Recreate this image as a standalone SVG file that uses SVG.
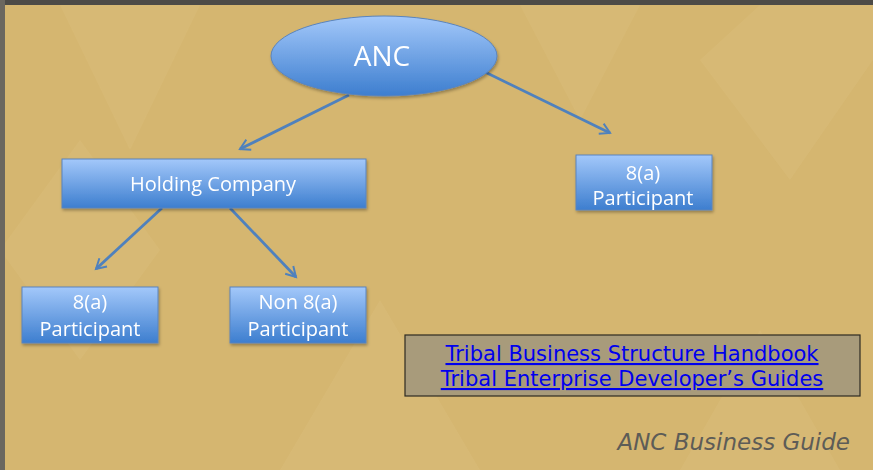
<svg xmlns="http://www.w3.org/2000/svg" width="873" height="470" viewBox="0 0 873 470">
<style>
.node{fill:url(#g);stroke:#5a84bd;stroke-width:1}
.nt{font-family:"Open Sans","Liberation Sans",sans-serif;fill:#fff;text-anchor:middle}
.conn line{stroke:#4f81bd;stroke-width:2.8;marker-end:url(#ah)}
.lnk{font-family:"DejaVu Sans",Verdana,sans-serif;font-size:21px;fill:#0000ee;text-decoration:underline;text-anchor:middle}
</style>
<defs>
<linearGradient id="g" x1="0" y1="0" x2="0" y2="1">
<stop offset="0" stop-color="#a3c8fa"/>
<stop offset="1" stop-color="#3d7ecf"/>
</linearGradient>
<marker id="ah" viewBox="0 0 10 10" refX="8" refY="5" markerWidth="5" markerHeight="5" orient="auto" markerUnits="strokeWidth">
<path d="M1,1 L8,5 L1,9" fill="none" stroke="#4f81bd" stroke-width="1.4"/>
</marker>
<filter id="sh" x="-10%" y="-10%" width="130%" height="140%">
<feDropShadow dx="1" dy="2" stdDeviation="1.5" flood-color="#000" flood-opacity="0.3"/>
</filter>
</defs>
<rect width="873" height="470" fill="#d5b670"/>
<g fill="#e2c88a" opacity="0.2">
<path d="M60,5 L200,5 L130,150 Z"/>
<path d="M520,5 L640,5 L580,120 Z"/>
<path d="M280,470 L380,300 L480,470 Z"/>
<path d="M680,470 L760,330 L840,470 Z"/>
<path d="M0,250 L80,140 L160,250 L80,360 Z"/>
<path d="M700,60 L790,180 L873,60 L873,5 L760,5 Z"/>
</g>
<rect x="0" y="0" width="873" height="5" fill="#4d4b47"/>
<rect x="0" y="0" width="5" height="470" fill="#6b675f"/>
<g class="conn">
<line x1="349" y1="95" x2="240" y2="149"/>
<line x1="485" y1="72" x2="610" y2="133"/>
<line x1="162" y1="208" x2="96" y2="269"/>
<line x1="230" y1="208" x2="296" y2="277"/>
</g>
<g id="anc" filter="url(#sh)">
<ellipse class="node" cx="384" cy="56" rx="113" ry="40"/>
<text class="nt" x="382" y="66" font-size="28">ANC</text>
</g>
<g id="holding" filter="url(#sh)">
<rect class="node" x="62" y="159" width="304" height="49"/>
<text class="nt" x="213" y="191" font-size="20">Holding Company</text>
</g>
<g id="p8a-right" filter="url(#sh)">
<rect class="node" x="576" y="155" width="136" height="55"/>
<text class="nt" x="643" y="180" font-size="20">8(a)</text>
<text class="nt" x="643" y="205" font-size="20">Participant</text>
</g>
<g id="p8a-left" filter="url(#sh)">
<rect class="node" x="22" y="287" width="136" height="56"/>
<text class="nt" x="90" y="309" font-size="20">8(a)</text>
<text class="nt" x="90" y="336" font-size="20">Participant</text>
</g>
<g id="non8a" filter="url(#sh)">
<rect class="node" x="230" y="287" width="136" height="56"/>
<text class="nt" x="298" y="309" font-size="20">Non 8(a)</text>
<text class="nt" x="298" y="336" font-size="20">Participant</text>
</g>
<g id="links">
<rect x="405" y="335" width="455" height="61" fill="#a89b7b" stroke="#2d2a22" stroke-width="1.2"/>
<text class="lnk" x="632" y="361">Tribal Business Structure Handbook</text>
<text class="lnk" x="632" y="386">Tribal Enterprise Developer’s Guides</text>
</g>
<text x="850" y="450" text-anchor="end" font-family="DejaVu Sans,Verdana,sans-serif" font-style="italic" font-size="23" fill="#5d5c57">ANC Business Guide</text>
</svg>
